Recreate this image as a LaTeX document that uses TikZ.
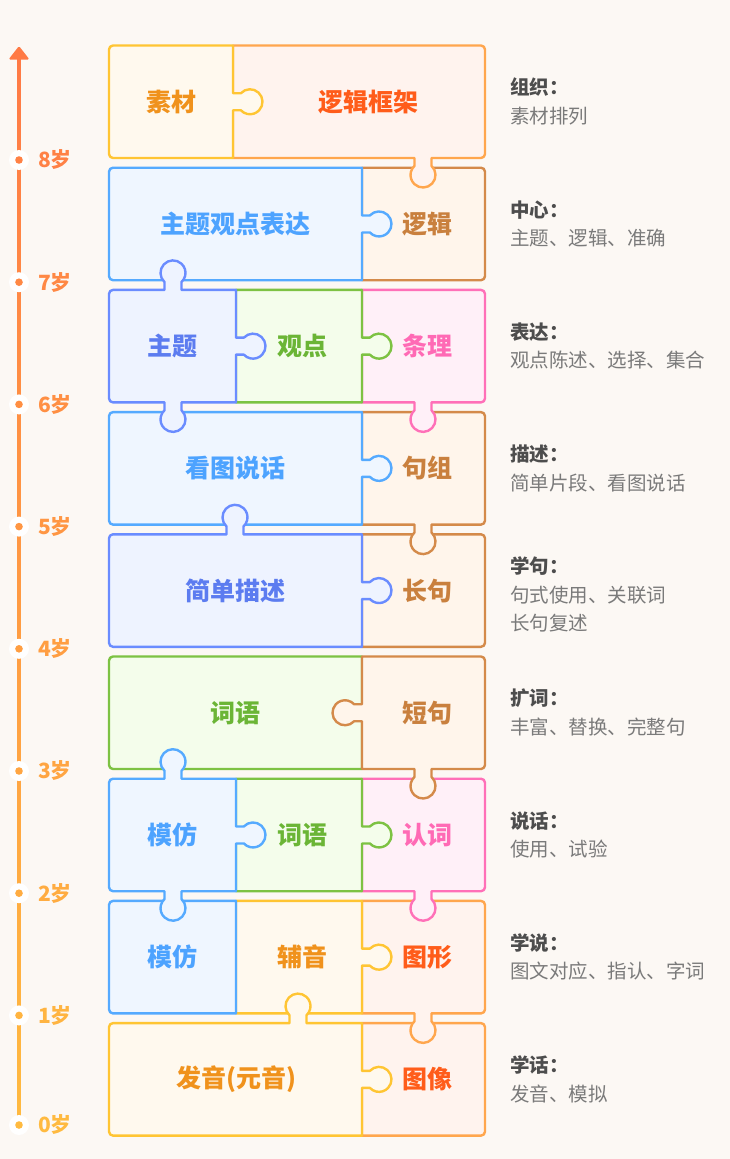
\documentclass[tikz,border=0pt]{standalone}
\usepackage{fontspec}
\newfontfamily\cjk{Noto Sans CJK SC}
\definecolor{bgc}{HTML}{FCF8F4}
% piece colours: border / fill / text
\definecolor{bY}{HTML}{FFC533}\definecolor{fY}{HTML}{FFF9EE}\definecolor{tY}{HTML}{F0921C}
\definecolor{bO}{HTML}{FFA64D}\definecolor{fO}{HTML}{FFF3EE}\definecolor{tO}{HTML}{FF5C1A}
\definecolor{bB}{HTML}{55AAFF}\definecolor{fB}{HTML}{EFF6FF}\definecolor{tB}{HTML}{4DA3FF}
\definecolor{bI}{HTML}{6A8CFF}\definecolor{fI}{HTML}{EEF3FF}\definecolor{tI}{HTML}{5C7CF0}
\definecolor{bG}{HTML}{7DC243}\definecolor{fG}{HTML}{F4FDEB}\definecolor{tG}{HTML}{6BB536}
\definecolor{bP}{HTML}{FF70B8}\definecolor{fP}{HTML}{FFF0F8}\definecolor{tP}{HTML}{FF6AB5}
\definecolor{bR}{HTML}{D48A4A}\definecolor{fR}{HTML}{FFF5EB}\definecolor{tR}{HTML}{C9803E}
\definecolor{tlA}{HTML}{FF7A45}\definecolor{tlB}{HTML}{FFBA40}
\definecolor{ttlc}{HTML}{4D4D4D}\definecolor{dscc}{HTML}{7A7A7A}
% rounded outer corners
\newcommand\pcTL[2]{-- ({#1},{#2+4}) arc[start angle=180,end angle=270,radius=4]}
\newcommand\pcTR[2]{-- ({#1-4},{#2}) arc[start angle=270,end angle=360,radius=4]}
\newcommand\pcBR[2]{-- ({#1},{#2-4}) arc[start angle=0,end angle=90,radius=4]}
\newcommand\pcBL[2]{-- ({#1+4},{#2}) arc[start angle=90,end angle=180,radius=4]}
% puzzle knobs
\newcommand\pkR[2]{-- ({#1},{#2-8.5}) -- ({#1+7.835},{#2-8.5}) arc[start angle=-137.16,end angle=137.16,radius=12.5] -- ({#1},{#2+8.5})}
\newcommand\pkB[2]{-- ({#1+8.5},{#2}) -- ({#1+8.5},{#2+7.835}) arc[start angle=-47.16,end angle=227.16,radius=12.5] -- ({#1-8.5},{#2})}
\newcommand\pkT[2]{-- ({#1-8.5},{#2}) -- ({#1-8.5},{#2-7.835}) arc[start angle=132.84,end angle=407.16,radius=12.5] -- ({#1+8.5},{#2})}
\newcommand\pkL[2]{-- ({#1},{#2+8.5}) -- ({#1-7.835},{#2+8.5}) arc[start angle=42.84,end angle=317.16,radius=12.5] -- ({#1},{#2-8.5})}
\begin{document}
\begin{tikzpicture}[x=1pt,y=-1pt,line join=round,
  piece/.style 2 args={draw=#1,fill=#2,line width=2.4pt},
  pY/.style={piece={bY}{fY}},pO/.style={piece={bO}{fO}},pB/.style={piece={bB}{fB}},
  pI/.style={piece={bI}{fI}},pG/.style={piece={bG}{fG}},pP/.style={piece={bP}{fP}},
  pR/.style={piece={bR}{fR}},
  lbl/.style={font=\cjk\bfseries\fontsize{25}{25}\selectfont,inner sep=0pt},
  agelbl/.style={font=\cjk\bfseries\fontsize{21}{21}\selectfont,inner sep=0pt,anchor=west},
  ttl/.style={font=\cjk\bfseries\fontsize{19.5}{19.5}\selectfont,text=ttlc,inner sep=0pt,anchor=west},
  dsc/.style={font=\cjk\fontsize{19.5}{19.5}\selectfont,text=dscc,inner sep=0pt,anchor=west}]
\fill[bgc] (0,0) rectangle (730,1159);
\useasboundingbox (0,0) rectangle (730,1159);
% ---------- pieces (receivers first, knob owners later) ----------
\draw[pO] (362,1023.1) \pcTR{485}{1023.1} \pcBR{485}{1135.6} -- (362,1135.6) -- cycle;
\draw[pO] (362,900.9) \pcTR{485}{900.9} \pcBR{485}{1013.4} \pkB{423}{1013.4} -- (362,1013.4) -- cycle;
\draw[pY] (236,900.9) -- (362,900.9) \pkR{362}{957.15} -- (362,1013.4) -- (236,1013.4) -- cycle;
\draw[pY] (109,1027.1) \pcTL{109}{1023.1} \pkT{298}{1023.1} -- (362,1023.1) \pkR{362}{1079.35} -- (362,1135.6) \pcBL{109}{1135.6} -- cycle;
\draw[pB] (109,904.9) \pcTL{109}{900.9} -- (236,900.9) -- (236,1013.4) \pcBL{109}{1013.4} -- cycle;
\draw[pP] (362,778.7) \pcTR{485}{778.7} \pcBR{485}{891.2} \pkB{423}{891.2} -- (362,891.2) -- cycle;
\draw[pG] (236,778.7) -- (362,778.7) \pkR{362}{834.95} -- (362,891.2) -- (236,891.2) -- cycle;
\draw[pG] (109,660.5) \pcTL{109}{656.5} -- (362,656.5) -- (362,769) \pcBL{109}{769} -- cycle;
\draw[pB] (109,782.7) \pcTL{109}{778.7} \pkT{173}{778.7} -- (236,778.7) \pkR{236}{834.95} -- (236,891.2) \pkB{173}{891.2} \pcBL{109}{891.2} -- cycle;
\draw[pR] (362,656.5) \pcTR{485}{656.5} \pcBR{485}{769} \pkB{423}{769} -- (362,769) \pkL{362}{712.75} -- cycle;
\draw[pR] (362,534.3) \pcTR{485}{534.3} \pcBR{485}{646.8} -- (362,646.8) -- cycle;
\draw[pR] (362,412.1) \pcTR{485}{412.1} \pcBR{485}{524.6} \pkB{423}{524.6} -- (362,524.6) -- cycle;
\draw[pB] (109,416.1) \pcTL{109}{412.1} -- (362,412.1) \pkR{362}{468.35} -- (362,524.6) \pcBL{109}{524.6} -- cycle;
\draw[pI] (109,538.3) \pcTL{109}{534.3} \pkT{235}{534.3} -- (362,534.3) \pkR{362}{590.55} -- (362,646.8) \pcBL{109}{646.8} -- cycle;
\draw[pP] (362,289.9) \pcTR{485}{289.9} \pcBR{485}{402.4} \pkB{423}{402.4} -- (362,402.4) -- cycle;
\draw[pG] (236,289.9) -- (362,289.9) \pkR{362}{346.15} -- (362,402.4) -- (236,402.4) -- cycle;
\draw[pR] (362,167.7) \pcTR{485}{167.7} \pcBR{485}{280.2} -- (362,280.2) -- cycle;
\draw[pB] (109,171.7) \pcTL{109}{167.7} -- (362,167.7) \pkR{362}{223.95} -- (362,280.2) \pcBL{109}{280.2} -- cycle;
\draw[pI] (109,293.9) \pcTL{109}{289.9} \pkT{173}{289.9} -- (236,289.9) \pkR{236}{346.15} -- (236,402.4) \pkB{173}{402.4} \pcBL{109}{402.4} -- cycle;
\draw[pO] (233,45.5) \pcTR{485}{45.5} \pcBR{485}{158} \pkB{423}{158} -- (233,158) -- cycle;
\draw[pY] (109,49.5) \pcTL{109}{45.5} -- (233,45.5) \pkR{233}{101.75} -- (233,158) \pcBL{109}{158} -- cycle;
% ---------- piece labels ----------
\node[lbl,text=tY] (sucai) at (171,101.75) {素材};
\node[lbl,text=tO] (kuangjia) at (368,101.75) {逻辑框架};
\node[lbl,text=tB] (ztgd) at (235.5,223.95) {主题观点表达};
\node[lbl,text=tR] (luoji) at (427,223.95) {逻辑};
\node[lbl,text=tI] (zhuti) at (172.5,346.15) {主题};
\node[lbl,text=tG] (guandian) at (302,346.15) {观点};
\node[lbl,text=tP] (tiaoli) at (427,346.15) {条理};
\node[lbl,text=tB] (ktsh) at (235.5,468.35) {看图说话};
\node[lbl,text=tR] (juzu) at (427,468.35) {句组};
\node[lbl,text=tI] (jdms) at (235.5,590.55) {简单描述};
\node[lbl,text=tR] (changju) at (427,590.55) {长句};
\node[lbl,text=tG] (ciyuA) at (235.5,712.75) {词语};
\node[lbl,text=tR] (duanju) at (427,712.75) {短句};
\node[lbl,text=tB] (mofangA) at (172.5,834.95) {模仿};
\node[lbl,text=tG] (ciyuB) at (302,834.95) {词语};
\node[lbl,text=tP] (renci) at (427,834.95) {认词};
\node[lbl,text=tB] (mofangB) at (172.5,957.15) {模仿};
\node[lbl,text=tY] (fuyin) at (302,957.15) {辅音};
\node[lbl,text=tO] (tuxing) at (427,957.15) {图形};
\node[lbl,text=tY] (fayin) at (236,1079.35) {发音(元音)};
\node[lbl,text=tO] (tuxiang) at (427,1079.35) {图像};
% ---------- right notes ----------
\node[ttl] (n0t) at (510,87.5) {组织：};   \node[dsc] (n0d) at (510,116) {素材排列};
\node[ttl] (n1t) at (510,209.7) {中心：};  \node[dsc] (n1d) at (510,238.2) {主题、逻辑、准确};
\node[ttl] (n2t) at (510,331.9) {表达：};  \node[dsc] (n2d) at (510,360.4) {观点陈述、选择、集合};
\node[ttl] (n3t) at (510,454.1) {描述：};  \node[dsc] (n3d) at (510,482.6) {简单片段、看图说话};
\node[ttl] (n4t) at (510,566.5) {学句：};  \node[dsc] (n4d) at (510,595) {句式使用、关联词};
\node[dsc] (n4e) at (510,623.5) {长句复述};
\node[ttl] (n5t) at (510,698.5) {扩词：};  \node[dsc] (n5d) at (510,727) {丰富、替换、完整句};
\node[ttl] (n6t) at (510,820.7) {说话：};  \node[dsc] (n6d) at (510,849.2) {使用、试验};
\node[ttl] (n7t) at (510,942.9) {学说：};  \node[dsc] (n7d) at (510,971.4) {图文对应、指认、字词};
\node[ttl] (n8t) at (510,1065.1) {学话：}; \node[dsc] (n8d) at (510,1093.6) {发音、模拟};
% ---------- timeline ----------
\shade[top color=tlA,bottom color=tlB] (17.7,56) rectangle (20.3,1125);
\fill[tlA,rounded corners=1.5pt] (19,46) -- (29.5,59.5) -- (8.5,59.5) -- cycle;
\foreach \yy/\pp/\lab in {160/10/8,282.2/22/7,404.4/33/6,526.6/44/5,648.8/56/4,771/67/3,893.2/78/2,1015.4/90/1,1125/100/0}{
  \fill[white] (19,\yy) circle[radius=10];
  \fill[tlB!\pp!tlA] (19,\yy) circle[radius=3.8];
  \node[agelbl,text=tlB!\pp!tlA] (age\lab) at (38,\yy) {\lab 岁};
}
\end{tikzpicture}
\end{document}
